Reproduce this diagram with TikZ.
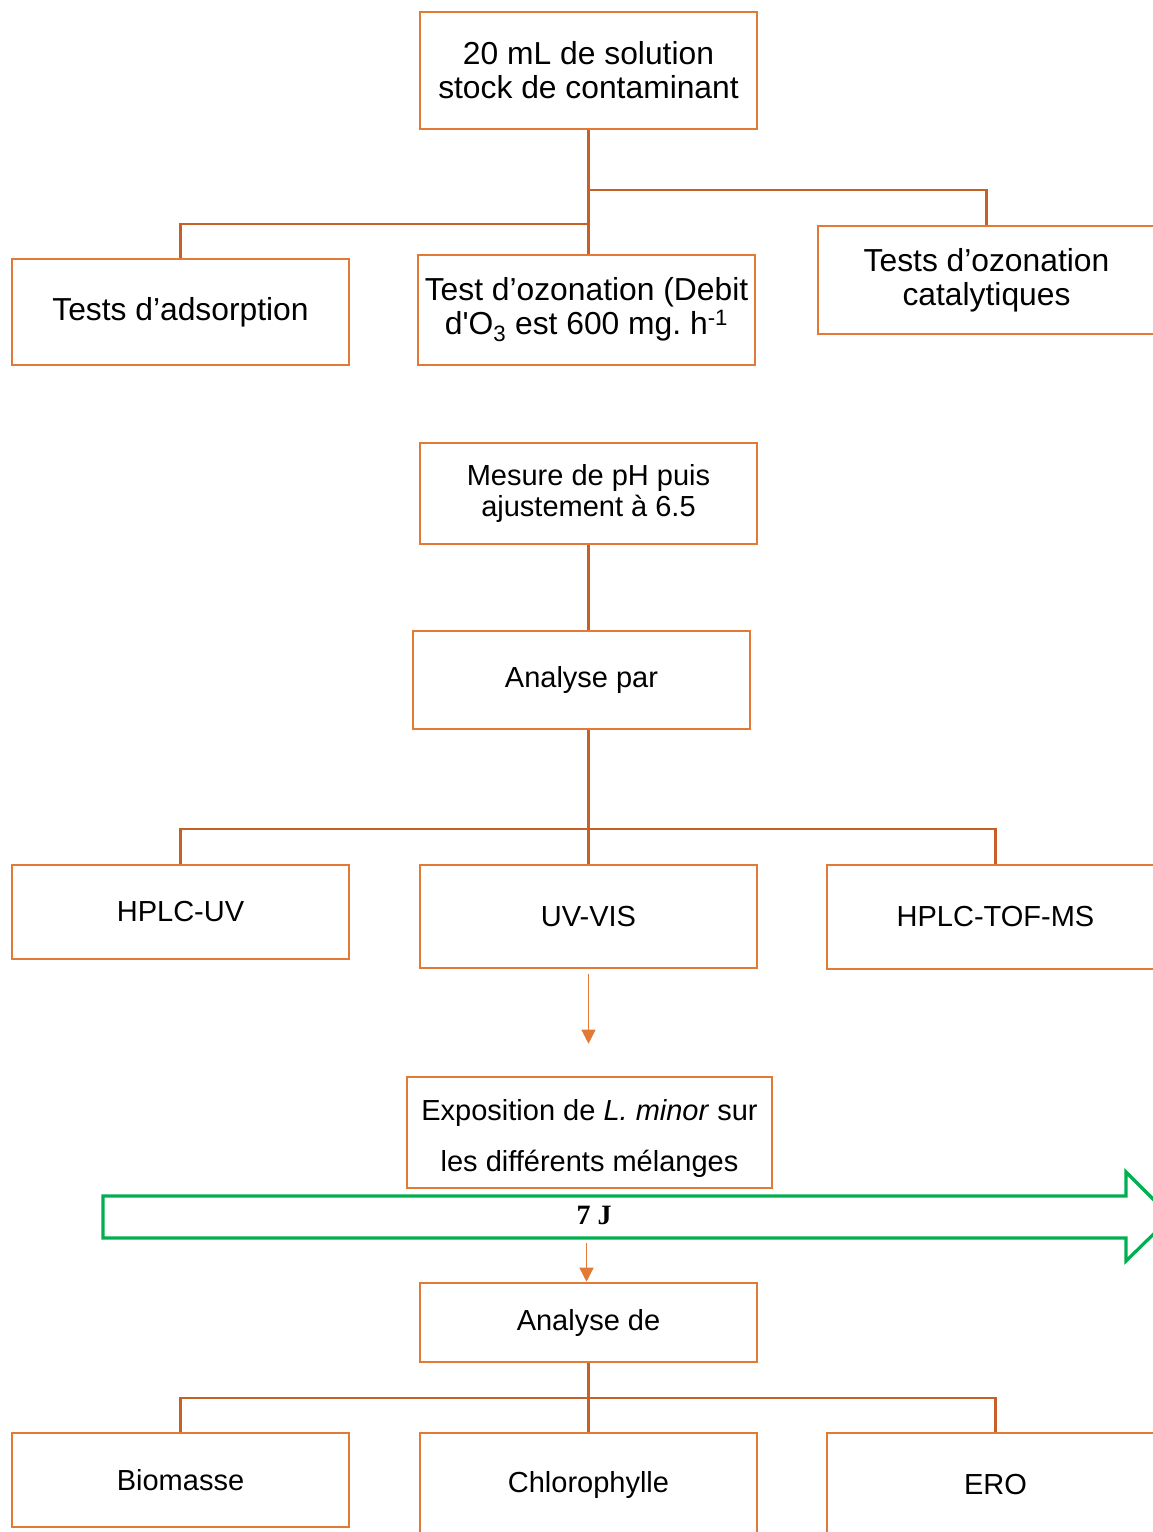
\documentclass[tikz,border=0pt]{standalone}
\usepackage{fontspec}
\setmainfont{Liberation Sans}
\newfontfamily\timesfont{Liberation Serif}
\usetikzlibrary{arrows.meta}
\definecolor{boxorange}{RGB}{226,121,52}
\definecolor{lineorange}{RGB}{198,96,38}
\definecolor{arrgreen}{RGB}{0,176,80}
\frenchspacing

\begin{document}
\begin{tikzpicture}[x=1pt,y=-1pt,
        box/.style={draw=boxorange,line width=2.6pt,minimum width=337pt,align=center,inner sep=0pt,font=\fontsize{29}{33}\selectfont},
        bigbox/.style={box,font=\fontsize{31.8}{34}\selectfont},
        link/.style={draw=lineorange,line width=2.6pt},
        flow/.style={draw=boxorange,line width=1.3pt,-{Triangle[width=14pt,length=14pt]}}]
        \useasboundingbox (0,0) rectangle (1153,1532);
        \clip (0,0) rectangle (1153,1532);

        \node[bigbox,minimum height=117pt] (stock) at (588.5,70.5) {20 mL de solution\\stock de contaminant};
        \node[bigbox,minimum height=106pt] (adsorp) at (180.5,312) {Tests d’adsorption};
        \node[bigbox,minimum height=110pt] (ozone) at (586.5,310) {Test d’ozonation (Debit\\d\textquotesingle O\textsubscript{3} est 600 mg. h\textsuperscript{-1}};
        \node[bigbox,minimum height=108pt] (catal) at (986.5,280) {Tests d’ozonation\\catalytiques};

        \node[box,minimum height=101pt,font=\fontsize{29}{31}\selectfont] (mesure) at (588.5,493.5) {Mesure de pH puis\\ajustement à 6.5};
        \node[box,minimum height=98pt] (anapar) at (581.5,680) {Analyse par};
        \node[box,minimum height=94pt] (hplcuv) at (180.5,912) {HPLC-UV};
        \node[box,minimum height=103pt] (uvvis) at (588.5,916.5) {UV-VIS};
        \node[box,minimum height=104pt] (tofms) at (995.5,917) {HPLC-TOF-MS};

        \node[box,minimum width=365pt,minimum height=111pt,font=\fontsize{29}{51}\selectfont] (expo) at (589.5,1132.5) {\rule{0pt}{33pt}Exposition de \textit{L. minor} sur\\les différents mélanges};
        \node[box,minimum height=79pt] (anade) at (588.5,1322.5) {Analyse de};
        \node[box,minimum height=94pt] (biomass) at (180.5,1480) {Biomasse};
        \node[box,minimum height=103pt] (chloro) at (588.5,1484.5) {Chlorophylle};
        \node[box,minimum height=103pt] (ero) at (995.5,1484.5) {ERO};

        \coordinate (j1) at (stock.south |- 0,224);
        \coordinate (j2) at (stock.south |- 0,190);
        \draw[link] (stock.south) -- (j1) -| (adsorp.north);
        \draw[link] (j1) -- (j1 |- ozone.north);
        \draw[link] (j2) -| (catal.north);

        \draw[link] (mesure.south) -- (mesure.south |- anapar.north);
        \coordinate (j3) at (mesure.south |- 0,829);
        \draw[link] (mesure.south |- anapar.south) -- (j3) -| (hplcuv.north);
        \draw[link] (j3) -| (tofms.north);
        \draw[link] (j3) -- (uvvis.north);

        \draw[flow,shorten <=5pt,shorten >=32pt] (uvvis.south) -- (uvvis.south |- expo.north);
        \draw[flow,shorten <=54pt] ([xshift=-3pt]expo.south) -- ([xshift=-3pt]expo.south |- anade.north);

        \draw[arrgreen,line width=3.2pt] (103,1196) -- (1126,1196) -- (1126,1172) -- (1171,1217)
            -- (1126,1261) -- (1126,1238) -- (103,1238) -- cycle;
        \node[font=\timesfont\bfseries\fontsize{28}{30}\selectfont] (days) at (594,1215) {7 J};

        \coordinate (j4) at (anade.south |- 0,1398);
        \draw[link] (anade.south) -- (j4) -| (biomass.north);
        \draw[link] (j4) -| (ero.north);
        \draw[link] (j4) -- (chloro.north);
    \end{tikzpicture}
\end{document}
